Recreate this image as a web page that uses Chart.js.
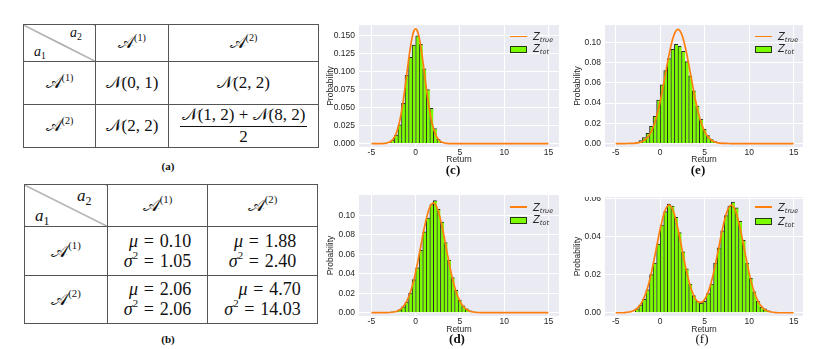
<!DOCTYPE html>
<html>
<head>
<meta charset="utf-8">
<script src="https://cdn.jsdelivr.net/npm/chart.js@4.4.1/dist/chart.umd.min.js"></script>
<style>
  body { margin: 0; background: #fff; }
  #page { position: relative; width: 814px; height: 349px; overflow: hidden; color: #111;
          font-family: "Liberation Serif", "DejaVu Serif", serif; }
  canvas { position: absolute; }
  table.tb { position: absolute; border-collapse: collapse; table-layout: fixed; }
  table.tb td { border: 1px solid #555; padding: 0; text-align: center; vertical-align: middle; white-space: nowrap; }
  .m { font-style: italic; }
  sup { font-size: 0.6em; vertical-align: 0.7em; line-height: 0; font-style: normal; }
  sub { font-size: 0.7em; vertical-align: -0.3em; line-height: 0; font-style: normal; }
  .diag { position: relative;
          background: linear-gradient(to top right, transparent calc(50% - 0.7px), #444 50%, transparent calc(50% + 0.7px)); }
  .diag span { position: absolute; font-style: italic; line-height: 18px; }
  .frac { display: inline-block; vertical-align: middle; line-height: 1.15; }
  .frac .num { border-bottom: 1px solid #111; padding: 0 2px 1px; }
  .eq { margin: 0 0.32em; font-style: normal; }
  .stat { display: inline-block; text-align: right; line-height: 20px; }
  .cap { position: absolute; transform: translate(-50%, -50%); font-weight: bold; white-space: nowrap; }
  .leg { position: absolute; font-family: "DejaVu Sans", sans-serif; font-size: 10px; color: #262626; }
  .leg .ln { position: absolute; left: 0; top: -1px; width: 17px; height: 1.6px; background: #ff7f0e; }
  .leg .bx { position: absolute; left: 0; width: 15px; height: 5px; background: #7cfc00; border: 1px solid rgba(20,20,20,0.85); }
  .leg .tx { position: absolute; left: 23px; line-height: 11px; white-space: nowrap; }
  .leg .tx i { font-style: italic; }
  .leg .tx sub { font-size: 6.5px; vertical-align: -2px; font-style: italic; }
</style>
</head>
<body>
<div id="page">
  <table class="tb" id="ta" style="left:23px;top:24px;width:295px;font-size:17px">
    <colgroup><col style="width:72px"><col style="width:73px"><col style="width:150px"></colgroup>
    <tr style="height:37px">
      <td class="diag"><span style="left:46px;top:-1px;font-size:14px">a<sub>2</sub></span><span style="left:10px;top:18px;font-size:14px">a<sub>1</sub></span></td>
      <td>𝒜<sup>(1)</sup></td><td>𝒜<sup>(2)</sup></td>
    </tr>
    <tr style="height:43px"><td>𝒜<sup>(1)</sup></td><td>𝒩(0, 1)</td><td>𝒩(2, 2)</td></tr>
    <tr style="height:43px"><td>𝒜<sup>(2)</sup></td><td>𝒩(2, 2)</td>
      <td><div class="frac"><div class="num">𝒩(1, 2) + 𝒩(8, 2)</div><div>2</div></div></td></tr>
  </table>
  <table class="tb" id="tb" style="left:24px;top:184px;width:293px;font-size:18px"></table>
</div>
<script>
// tick labels
const xTicks = [-5, 0, 5, 10, 15];
const yTicksC = [0, 0.025, 0.05, 0.075, 0.1, 0.125, 0.15];
const yTicksE = [0, 0.02, 0.04, 0.06, 0.08, 0.1];
const yTicksD = [0, 0.02, 0.04, 0.06, 0.08, 0.1];
const yTicksF = [0, 0.02, 0.04, 0.06];

// table (b): sample mean / variance of Z_tot
const statMu = [[0.10, 1.88], [2.06, 4.70]];
const statVar = [[1.05, 2.40], [2.06, 14.03]];

// (c) histogram + true density, N(0,1)
const binsC = [-3.0, -2.6, -2.2, -1.8, -1.4, -1.0, -0.6, -0.2, 0.2, 0.6, 1.0, 1.4, 1.8, 2.2, 2.6, 3.0];
const histC = [0.002, 0.005, 0.012, 0.026, 0.056, 0.095, 0.120, 0.137, 0.150, 0.138, 0.104, 0.075, 0.049, 0.021, 0.006, 0.002];
const curveXC = [-5, -4.5, -4, -3.5, -3, -2.75, -2.5, -2.25, -2, -1.75, -1.5, -1.25, -1, -0.75, -0.5, -0.25, 0,
                 0.25, 0.5, 0.75, 1, 1.25, 1.5, 1.75, 2, 2.25, 2.5, 2.75, 3, 3.5, 4, 4.5, 5, 15];
const curveC = [0, 0, 0.0001, 0.0003, 0.0018, 0.0036, 0.0070, 0.0127, 0.0216, 0.0345, 0.0518, 0.0730, 0.0968, 0.1205, 0.1408, 0.1547, 0.1596,
                0.1547, 0.1408, 0.1205, 0.0968, 0.0730, 0.0518, 0.0345, 0.0216, 0.0127, 0.0070, 0.0036, 0.0018, 0.0003, 0.0001, 0, 0, 0];

// shared x grid for the other curves
const curveX = [-5, -4.5, -4, -3.5, -3, -2.5, -2, -1.5, -1, -0.5, 0, 0.5, 1, 1.5, 2, 2.5, 3, 3.5, 4, 4.5, 5,
                5.5, 6, 6.5, 7, 7.5, 8, 8.5, 9, 9.5, 10, 10.5, 11, 11.5, 12, 12.5, 13, 13.5, 14, 14.5, 15];
// N(2,2) true density (used by d and e)
const curveN22 = [0, 0, 0, 0.0001, 0.0002, 0.0007, 0.0021, 0.0053, 0.0119, 0.0236, 0.0415, 0.0643, 0.0879, 0.1060, 0.1128, 0.1060, 0.0879, 0.0643, 0.0415, 0.0236, 0.0119,
                  0.0053, 0.0021, 0.0007, 0.0002, 0.0001, 0, 0, 0, 0, 0, 0, 0, 0, 0, 0, 0, 0, 0, 0, 0];

// (e)
const binsE = [-2.6, -2.2, -1.8, -1.4, -1.0, -0.6, -0.2, 0.2, 0.6, 1.0, 1.4, 1.8, 2.2, 2.6, 3.0, 3.4, 3.8, 4.2, 4.6, 5.0, 5.4, 5.8, 6.2];
const histE = [0.001, 0.003, 0.006, 0.010, 0.017, 0.027, 0.043, 0.058, 0.072, 0.084, 0.093, 0.098, 0.096, 0.091, 0.081, 0.067, 0.052, 0.037, 0.024, 0.014, 0.008, 0.004, 0.002];

// (d)
const binsD = [-2.6, -2.2, -1.8, -1.4, -1.0, -0.6, -0.2, 0.2, 0.6, 1.0, 1.4, 1.8, 2.2, 2.6, 3.0, 3.4, 3.8, 4.2, 4.6, 5.0, 5.4, 5.8, 6.2, 6.6];
const histD = [0.001, 0.001, 0.003, 0.006, 0.011, 0.020, 0.034, 0.046, 0.064, 0.083, 0.097, 0.111, 0.115, 0.106, 0.093, 0.072, 0.054, 0.036, 0.023, 0.013, 0.007, 0.004, 0.002, 0.001];

// (f) mixture (N(1,2)+N(8,2))/2
const binsF = [-2.6, -2.2, -1.8, -1.4, -1.0, -0.6, -0.2, 0.2, 0.6, 1.0, 1.4, 1.8, 2.2, 2.6, 3.0, 3.4, 3.8, 4.2, 4.6, 5.0,
               5.4, 5.8, 6.2, 6.6, 7.0, 7.4, 7.8, 8.2, 8.6, 9.0, 9.4, 9.8, 10.2, 10.6, 11.0, 11.4, 11.8, 12.2];
const histF = [0.002, 0.004, 0.007, 0.012, 0.020, 0.026, 0.036, 0.046, 0.053, 0.057, 0.056, 0.050, 0.042, 0.032, 0.023, 0.015, 0.009, 0.006, 0.005, 0.006,
               0.010, 0.015, 0.026, 0.034, 0.043, 0.051, 0.056, 0.058, 0.055, 0.048, 0.038, 0.026, 0.018, 0.011, 0.006, 0.003, 0.002, 0.001];
const curveF = [0, 0, 0.0001, 0.0004, 0.0010, 0.0027, 0.0060, 0.0118, 0.0208, 0.0322, 0.0439, 0.0530, 0.0564, 0.0530, 0.0439, 0.0322, 0.0209, 0.0122, 0.0070, 0.0054, 0.0070,
                0.0122, 0.0209, 0.0322, 0.0439, 0.0530, 0.0564, 0.0530, 0.0439, 0.0322, 0.0208, 0.0118, 0.0060, 0.0027, 0.0010, 0.0004, 0.0001, 0, 0, 0, 0];

const page = document.getElementById('page');

// table (b)
const tb = document.getElementById('tb');
tb.innerHTML = '<colgroup><col style="width:83px"><col style="width:100px"><col style="width:110px"></colgroup>' +
  '<tr style="height:42px"><td class="diag"><span style="left:52px;top:2px;font-size:17px">a<sub>2</sub></span>' +
  '<span style="left:10px;top:22px;font-size:17px">a<sub>1</sub></span></td><td>𝒜<sup>(1)</sup></td><td>𝒜<sup>(2)</sup></td></tr>';
[49, 48].forEach((h, r) => {
  let row = '<tr style="height:' + h + 'px"><td>𝒜<sup>(' + (r + 1) + ')</sup></td>';
  for (let c = 0; c < 2; c++) {
    row += '<td><span class="stat"><span class="m">μ</span><span class="eq">=</span>' + statMu[r][c].toFixed(2) +
           '<br><span class="m">σ</span><sup>2</sup><span class="eq">=</span>' + statVar[r][c].toFixed(2) + '</span></td>';
  }
  tb.innerHTML += row + '</tr>';
});

Chart.defaults.font.family = '"Liberation Sans", Arial, sans-serif';

const panelBg = {
  id: 'panelBg',
  beforeDraw(chart) {
    const { ctx, chartArea: a } = chart;
    ctx.save();
    ctx.fillStyle = '#eaeaf2';
    ctx.fillRect(a.left, a.top, a.right - a.left, a.bottom - a.top);
    ctx.restore();
  }
};

function pts(xs, ys) { return xs.map((x, i) => ({ x: x, y: ys[i] })); }

function drawPanel(p) {
  const cv = document.createElement('canvas');
  cv.width = p.w; cv.height = p.h;
  cv.style.left = p.left + 'px'; cv.style.top = p.top + 'px';
  cv.style.width = p.w + 'px'; cv.style.height = p.h + 'px';
  page.appendChild(cv);

  new Chart(cv, {
    type: 'bar',
    data: {
      datasets: [
        { type: 'line', data: pts(p.curveX, p.curveY), borderColor: '#ff7f0e', borderWidth: 1.7,
          pointRadius: 0, cubicInterpolationMode: 'monotone', order: 0 },
        { type: 'bar', data: pts(p.binX, p.binY), backgroundColor: '#7cfc00',
          borderColor: 'rgba(20,20,20,0.9)', borderWidth: { left: 1, top: 1, right: 0, bottom: 0 },
          barPercentage: 1, categoryPercentage: 1, order: 1 }
      ]
    },
    options: {
      responsive: false,
      animation: false,
      devicePixelRatio: 1,
      layout: { padding: 0 },
      plugins: { legend: { display: false }, tooltip: { enabled: false } },
      scales: {
        x: {
          type: 'linear', min: p.xMin, max: p.xMax, offset: false,
          grid: { color: '#ffffff', lineWidth: 1, drawTicks: false, offset: false },
          border: { display: false },
          ticks: { color: '#262626', font: { size: 8.5 }, padding: 1, maxRotation: 0 },
          afterBuildTicks: s => { s.ticks = xTicks.map(v => ({ value: v })); },
          afterFit: s => { s.height = p.xH; s.paddingLeft = 0; s.paddingRight = 0; },
          title: { display: true, text: 'Return', color: '#262626', font: { size: 8.5 }, padding: 0 }
        },
        y: {
          min: p.yMin, max: p.yMax,
          grid: { color: '#ffffff', lineWidth: 1, drawTicks: false },
          border: { display: false },
          ticks: { color: '#262626', font: { size: 8.5 }, padding: 4, callback: v => v.toFixed(p.dec) },
          afterBuildTicks: s => { s.ticks = p.yTicks.map(v => ({ value: v })); },
          afterFit: s => { s.width = p.yW; s.paddingTop = 0; s.paddingBottom = 0; },
          title: { display: true, text: 'Probability', color: '#262626', font: { size: 8.5 }, padding: 0 }
        }
      }
    },
    plugins: [panelBg]
  });

  // legend drawn as html so the subscripts stay real text
  const lg = document.createElement('div');
  lg.className = 'leg';
  lg.style.left = p.legX + 'px'; lg.style.top = p.legY + 'px';
  lg.innerHTML = '<div class="ln"></div><div class="tx" style="top:-5.5px"><i>Z</i><sub>true</sub></div>' +
    '<div class="bx" style="top:' + p.boxDy + 'px"></div>' +
    '<div class="tx" style="top:' + (p.boxDy - 2.5) + 'px"><i>Z</i><sub>tot</sub></div>';
  page.appendChild(lg);
}

drawPanel({ left: 326, top: 25, w: 233, h: 140, yW: 33, xH: 18, xMin: -6.4, xMax: 16.2, yMin: -0.0047, yMax: 0.1649,
  yTicks: yTicksC, dec: 3, binX: binsC, binY: histC, curveX: curveXC, curveY: curveC, legX: 510, legY: 36.5, boxDy: 9 });
drawPanel({ left: 573, top: 25, w: 230, h: 140, yW: 32, xH: 18, xMin: -6.2, xMax: 16.05, yMin: -0.0034, yMax: 0.1171,
  yTicks: yTicksE, dec: 2, binX: binsE, binY: histE, curveX: curveX, curveY: curveN22, legX: 755, legY: 36.5, boxDy: 9 });
drawPanel({ left: 326, top: 195, w: 233, h: 140, yW: 33, xH: 19, xMin: -6.4, xMax: 16.2, yMin: -0.0034, yMax: 0.1208,
  yTicks: yTicksD, dec: 2, binX: binsD, binY: histD, curveX: curveX, curveY: curveN22, legX: 510, legY: 207, boxDy: 9.5 });
drawPanel({ left: 573, top: 197, w: 230, h: 138, yW: 32, xH: 19, xMin: -6.2, xMax: 16.05, yMin: -0.0017, yMax: 0.0607,
  yTicks: yTicksF, dec: 2, binX: binsF, binY: histF, curveX: curveX, curveY: curveF, legX: 755, legY: 207, boxDy: 11 });

// sub-figure captions
[['(a)', 168, 166, 11, 'bold'], ['(b)', 168, 339, 11, 'bold'], ['(c)', 453, 170, 13, 'bold'],
 ['(e)', 698, 170, 13, 'bold'], ['(d)', 457, 339, 13, 'bold'], ['(f)', 702, 339, 13, 'normal']].forEach(c => {
  const d = document.createElement('div');
  d.className = 'cap';
  d.textContent = c[0];
  d.style.left = c[1] + 'px'; d.style.top = c[2] + 'px';
  d.style.fontSize = c[3] + 'px'; d.style.fontWeight = c[4];
  page.appendChild(d);
});
</script>
</body>
</html>
